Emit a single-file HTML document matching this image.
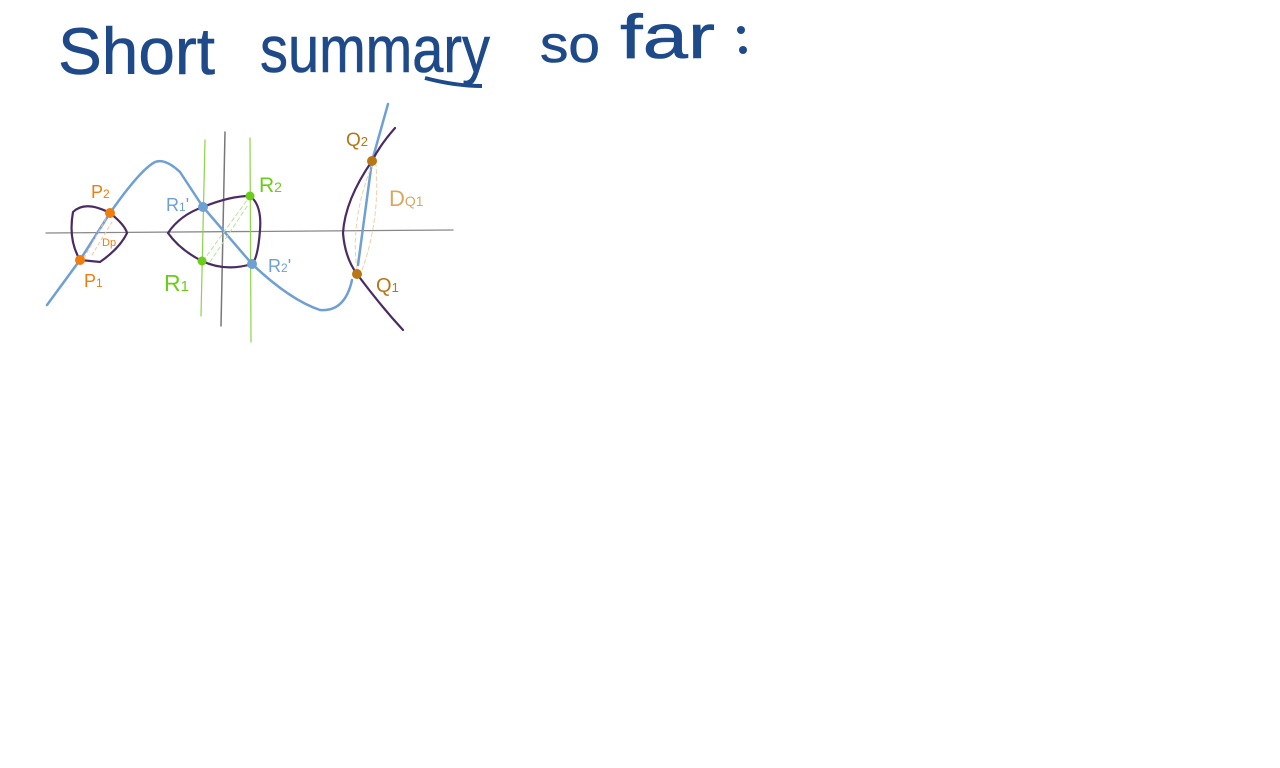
<!DOCTYPE html>
<html><head><meta charset="utf-8"><style>
html,body{margin:0;padding:0;background:#fff;width:1280px;height:768px;overflow:hidden}
</style></head><body>
<svg width="1280" height="768" viewBox="0 0 1280 768" xmlns="http://www.w3.org/2000/svg">
<g font-family="Liberation Sans, sans-serif" font-size="66" fill="#1f4a8a" stroke="#1f4a8a" stroke-width="0.6">
<text x="58" y="74" textLength="157" lengthAdjust="spacingAndGlyphs">Short</text>
<text x="260" y="72" textLength="230" lengthAdjust="spacingAndGlyphs">summary</text>
<text x="540" y="62" font-size="52" textLength="60" lengthAdjust="spacingAndGlyphs">so</text>
<text x="620" y="58" font-size="62" textLength="95" lengthAdjust="spacingAndGlyphs">far</text>
</g>
<circle cx="741" cy="30" r="4" fill="#1f4a8a"/><circle cx="743" cy="50" r="4" fill="#1f4a8a"/>
<path d="M425 78 Q455 86 482 86" stroke="#1f4a8a" stroke-width="4" fill="none"/>
<g fill="none" stroke-linecap="round">
<line x1="46" y1="233" x2="453" y2="230" stroke="#888" stroke-width="1.3"/>
<line x1="225" y1="132" x2="221" y2="326" stroke="#777" stroke-width="1.5"/>
<line x1="205" y1="140" x2="201" y2="316" stroke="#8cd34a" stroke-width="1.2"/>
<line x1="250" y1="138" x2="251" y2="342" stroke="#8cd34a" stroke-width="1.2"/>
<path d="M47 305 L80 260 L110 213 Q140 170 155 162 Q165 158 180 172 L203 207 L252 264 Q290 300 320 310 Q345 312 352 280" stroke="#6fa0d4" stroke-width="2.5"/>
<path d="M358 265 L372 161 L388 104" stroke="#6fa0d4" stroke-width="2.5"/>
<path d="M80 260 Q68 240 73 212 Q85 200 110 213 Q125 225 127 233 Q120 248 100 262 Z" stroke="#4a2b63" stroke-width="2.2"/>
<path d="M168 233 Q180 215 203 207 Q230 196 250 196 Q262 205 260 230 Q258 258 252 264 Q225 272 202 261 Q180 250 168 233 Z" stroke="#4a2b63" stroke-width="2.2"/>
<path d="M395 128 Q380 145 372 161 Q345 200 343 233 Q345 258 357 274 Q380 305 403 330" stroke="#4a2b63" stroke-width="2.2"/>
<path d="M203 261 L250 196 M210 262 L248 205" stroke="#b8e39a" stroke-width="1" stroke-dasharray="4 3"/>
<path d="M84 258 L108 215 M92 255 L112 222" stroke="#f5c39a" stroke-width="1" stroke-dasharray="3 3"/>
<path d="M357 270 Q350 220 372 165 M362 270 Q380 220 376 165" stroke="#f0d0a8" stroke-width="1" stroke-dasharray="4 3"/>
</g>
<circle cx="80" cy="260" r="5" fill="#f07d10"/><circle cx="110" cy="213" r="5" fill="#f07d10"/>
<circle cx="203" cy="207" r="5" fill="#6fa0d4"/><circle cx="252" cy="264" r="5" fill="#6fa0d4"/>
<circle cx="202" cy="261" r="4.5" fill="#6ccc1a"/><circle cx="250" cy="196" r="4.5" fill="#6ccc1a"/>
<circle cx="372" cy="161" r="5" fill="#b87616"/><circle cx="357" cy="274" r="5" fill="#b87616"/>
<g font-family="Liberation Sans, sans-serif">
<text x="91" y="198" font-size="18" fill="#f07d10">P<tspan font-size="12">2</tspan></text>
<text x="84" y="287" font-size="18" fill="#f07d10">P<tspan font-size="12">1</tspan></text>
<text x="102" y="246" font-size="11" fill="#f07d10">Dp</text>
<text x="166" y="211" font-size="18" fill="#6fa0d4">R<tspan font-size="12">1</tspan>'</text>
<text x="268" y="272" font-size="18" fill="#6fa0d4">R<tspan font-size="12">2</tspan>'</text>
<text x="259" y="192" font-size="21" fill="#6ccc1a">R<tspan font-size="14">2</tspan></text>
<text x="164" y="291" font-size="23" fill="#6ccc1a">R<tspan font-size="15">1</tspan></text>
<text x="346" y="146" font-size="19" fill="#b87616">Q<tspan font-size="13">2</tspan></text>
<text x="376" y="292" font-size="20" fill="#b87616">Q<tspan font-size="13">1</tspan></text>
<text x="389" y="206" font-size="22" fill="#d9a860">D<tspan font-size="14">Q1</tspan></text>
</g>
</svg>
</body></html>
